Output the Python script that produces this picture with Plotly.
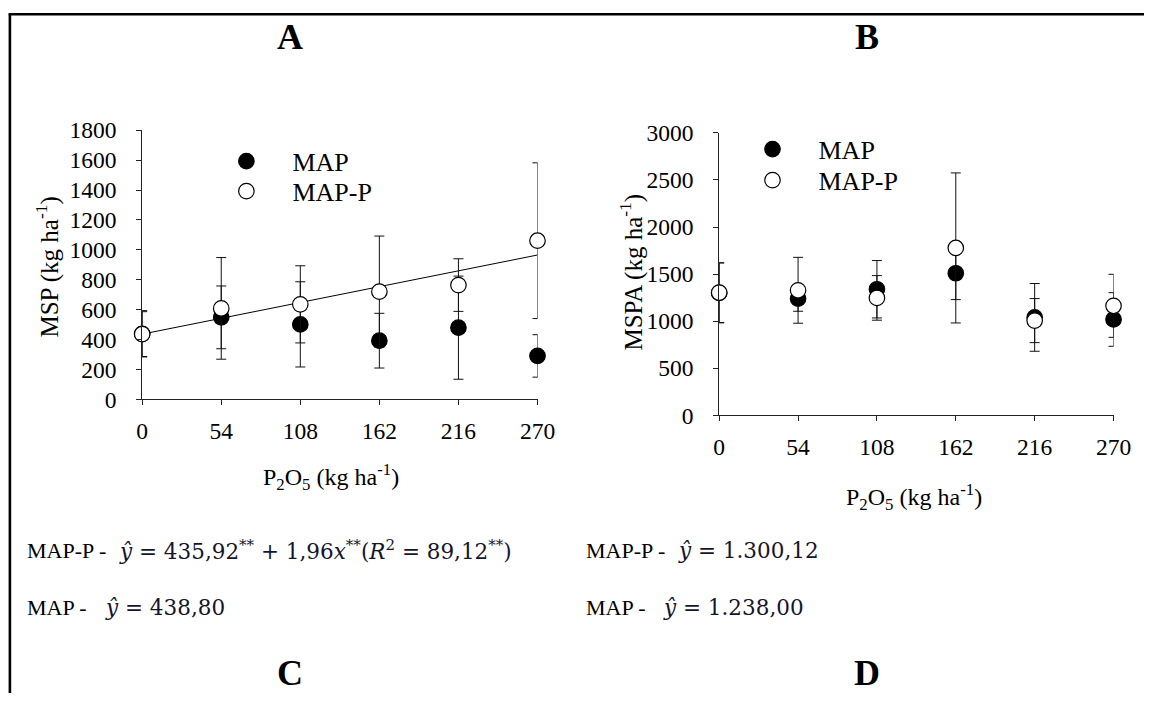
import plotly.graph_objects as go

# ---------------- data ----------------
doses = [0, 54, 108, 162, 216, 270]

# Panel A (MSP, kg/ha)
msp_map = [438, 548, 501, 392, 479, 290]
msp_map_err = [155, 210, 285, 183, 345, 142]
msp_mapp = [436, 608, 635, 720, 764, 1061]
msp_mapp_err = [150, 340, 258, 372, 176, 521]

# Panel B (MSPA, kg/ha)
mspa_map = [1300, 1240, 1339, 1509, 1040, 1018]
mspa_map_err = [318, 135, 305, 280, 360, 285]
mspa_mapp = [1303, 1328, 1247, 1778, 1006, 1163]
mspa_mapp_err = [318, 350, 237, 797, 234, 335]

# Regression for MAP-P in panel A
reg_a, reg_b = 435.92, 1.96
reg_x = [0, 270]

W, H = 1162, 706
SERIF = "Liberation Serif"
AX = "#222222"

# mapping from target picture pixels to page pixels (calibrated)
SX, OX, SY, OY = 0.981, 5.6, 0.963, 12.8


def px(x):
    return ((x - OX) / SX) / W


def py(y):
    return 1 - ((y - OY) / SY) / H


fig = go.Figure()


def add_series(xa, ya, y, err, filled, name, legend):
    fig.add_trace(go.Scatter(
        x=doses, y=y, xaxis=xa, yaxis=ya, mode="markers", name=name,
        legend=legend, showlegend=True, cliponaxis=False,
        marker=dict(size=15.5, color="black" if filled else "white",
                    line=dict(color="black", width=1.2), symbol="circle"),
        error_y=dict(type="data", array=err, visible=True, color="#111111",
                     thickness=1, width=5),
    ))


SP = "&nbsp;" * 4
add_series("x", "y", msp_map, msp_map_err, True, SP + "MAP", "legend")
fig.add_trace(go.Scatter(
    x=reg_x, y=[reg_a + reg_b * v for v in reg_x], xaxis="x", yaxis="y",
    mode="lines", line=dict(color="black", width=1), showlegend=False,
    cliponaxis=False))
add_series("x", "y", msp_mapp, msp_mapp_err, False, SP + "MAP-P", "legend2")

add_series("x2", "y2", mspa_map, mspa_map_err, True, SP + "MAP", "legend3")
add_series("x2", "y2", mspa_mapp, mspa_mapp_err, False, SP + "MAP-P", "legend4")

tick_font = dict(family=SERIF, size=23.5, color="black")
common_x = dict(range=[0, 270], tickvals=doses, ticks="outside", ticklen=5,
                tickwidth=1, tickcolor=AX, showline=True, linecolor=AX,
                linewidth=1, showgrid=False, zeroline=False,
                tickfont=tick_font, ticklabelstandoff=6)
common_y = dict(ticks="outside", ticklen=5, tickwidth=1, tickcolor=AX,
                showline=True, linecolor=AX, linewidth=1, showgrid=False,
                zeroline=False, tickfont=tick_font, ticklabelstandoff=15)

legend_common = dict(font=dict(family=SERIF, size=26, color="black"),
                     bgcolor="rgba(0,0,0,0)", borderwidth=0,
                     xanchor="left", yanchor="middle", itemsizing="trace")


def leg(mx, my):
    # mx, my: target picture position of the legend marker centre
    return dict(x=px(mx) - 19 / W, y=py(my), **legend_common)


fig.update_layout(
    width=W, height=H, autosize=False,
    margin=dict(l=0, r=0, t=0, b=0),
    paper_bgcolor="white", plot_bgcolor="white",
    xaxis=dict(domain=[px(142), px(538)], anchor="y", **common_x),
    yaxis=dict(domain=[py(399), py(130)], anchor="x", range=[0, 1800],
               dtick=200, **common_y),
    xaxis2=dict(domain=[px(720), px(1115)], anchor="y2", **common_x),
    yaxis2=dict(domain=[py(415), py(132.7)], anchor="x2", range=[0, 3000],
                dtick=500, **common_y),
    legend=leg(245, 161),
    legend2=leg(245, 191),
    legend3=leg(772, 149),
    legend4=leg(772, 180),
    showlegend=True,
)

ann = []
ytitle_font = dict(family=SERIF, size=25, color="black")
xtitle_font = dict(family=SERIF, size=24, color="black")
ann.append(dict(text="MSP (kg ha<sup>-1</sup>)", x=px(47), y=py(267), textangle=-90,
                font=ytitle_font))
ann.append(dict(text="MSPA (kg ha<sup>-1</sup>)", x=px(632), y=py(272), textangle=-90,
                font=ytitle_font))
ann.append(dict(text="P<sub>2</sub>O<sub>5</sub> (kg ha<sup>-1</sup>)", x=px(331),
                y=py(477), font=xtitle_font))
ann.append(dict(text="P<sub>2</sub>O<sub>5</sub> (kg ha<sup>-1</sup>)", x=px(915),
                y=py(497), font=xtitle_font))
# panel letters
let_font = dict(family=SERIF, size=36, color="black")
for t, x, y in [("A", 290, 37), ("B", 868, 37), ("C", 290, 673), ("D", 868, 673)]:
    ann.append(dict(text="<b>%s</b>" % t, x=px(x), y=py(y), font=let_font))

# equations
eq_lab = dict(family=SERIF, size=22, color="black")
eq_math = dict(family="DejaVu Serif", size=21.5, color="#15152a")
eqs = [
    (25, 117, 550, "MAP-P - ",
     "<i>ŷ</i> = 435,92<sup>**</sup> + 1,96<i>x</i><sup>**</sup>(<i>R</i><sup>2</sup> = 89,12<sup>**</sup>)"),
    (25, 103, 607, "MAP - ", "<i>ŷ</i> = 438,80"),
    (585, 677, 550, "MAP-P - ", "<i>ŷ</i> = 1.300,12"),
    (585, 662, 607, "MAP - ", "<i>ŷ</i> = 1.238,00"),
]
for xl, xm, y, lab, math in eqs:
    ann.append(dict(text=lab, x=px(xl), y=py(y), xanchor="left", font=eq_lab))
    ann.append(dict(text=math, x=px(xm), y=py(y), xanchor="left", font=eq_math))

for a in ann:
    a.setdefault("xanchor", "center")
    a.update(xref="paper", yref="paper", yanchor="middle", showarrow=False)
fig.update_layout(annotations=ann)

# outer frame (left and top edges)
fig.add_shape(type="line", xref="paper", yref="paper", x0=px(9.5), x1=px(9.5),
              y0=py(14.1), y1=0, line=dict(color="black", width=2.6))
fig.add_shape(type="line", xref="paper", yref="paper", x0=px(8.2), x1=1,
              y0=py(14.1), y1=py(14.1), line=dict(color="black", width=2.6))

fig.write_html(
    "out.html",
    config={"displayModeBar": False},
    post_script="document.documentElement.style.margin='0';"
                "document.body.style.margin='0';"
                "document.body.style.overflow='hidden';",
)
